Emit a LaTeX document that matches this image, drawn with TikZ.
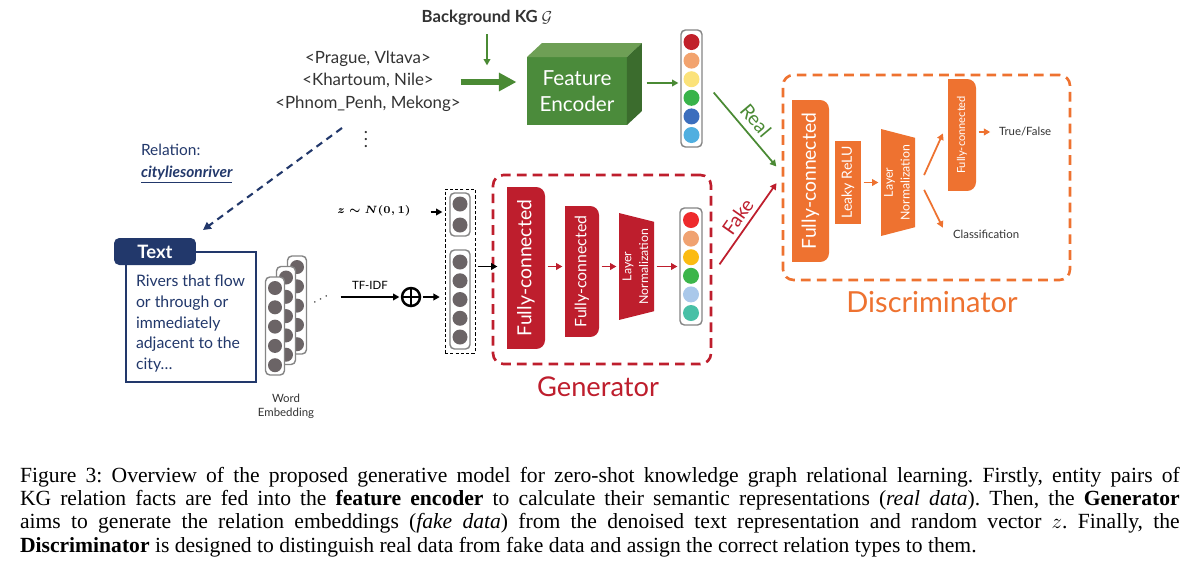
\documentclass[tikz,border=0pt]{standalone}
\usepackage{amsmath,amssymb}
\usepackage{fontspec}
\setmainfont{Lato}
\newfontfamily\capfont{Liberation Serif}
\usetikzlibrary{shapes,arrows.meta,positioning,fit,calc,backgrounds}

\definecolor{encgreen}{HTML}{4B8B3B}
\definecolor{encgreentop}{HTML}{6E9F55}
\definecolor{encgreenside}{HTML}{3B6C2D}
\definecolor{arrgreen}{HTML}{4A8A34}
\definecolor{genred}{HTML}{BE1E2D}
\definecolor{disorange}{HTML}{EE7230}
\definecolor{relnavy}{HTML}{22386B}
\definecolor{dotgray}{HTML}{6B6466}
\definecolor{vecgray}{HTML}{858585}
\definecolor{txtgray}{HTML}{333333}
% real / fake vector entries
\definecolor{realA}{HTML}{C1202A}
\definecolor{realB}{HTML}{F2A36E}
\definecolor{realC}{HTML}{FBE27A}
\definecolor{realD}{HTML}{38B34A}
\definecolor{realE}{HTML}{3B6EBD}
\definecolor{realF}{HTML}{50AFE0}
\definecolor{fakeA}{HTML}{EE2A2C}
\definecolor{fakeB}{HTML}{F0A271}
\definecolor{fakeC}{HTML}{FBBB12}
\definecolor{fakeD}{HTML}{3CB54A}
\definecolor{fakeE}{HTML}{A9C8EA}
\definecolor{fakeF}{HTML}{48C0A6}

\begin{document}
\begin{tikzpicture}[
    x=0.02cm, y=-0.02cm,
    every node/.style={inner sep=0pt, outer sep=0pt},
    arr/.style={-{Triangle[length=3.6pt,width=3.8pt]}, line width=1pt, shorten >=1.5pt, shorten <=1.5pt},
    vecbox/.style={draw=vecgray, fill=white, line width=0.8pt, rounded corners=2.5pt},
    fcbox/.style={fill=#1, text=white, rounded corners=5pt},
    dashbox/.style={draw=#1, line width=1.5pt, dash pattern=on 5.5pt off 3.5pt, rounded corners=6pt},
    smalltxt/.style={font=\fontsize{6.5}{8}\selectfont, text=txtgray},
  ]
  \useasboundingbox (0,0) rectangle (1191,575);

  % --- feature encoder branch
  \node[font=\bfseries\fontsize{9.5}{11}\selectfont, text=txtgray] (bgkg) at (487,18) {Background KG $\mathcal{G}$};
  \node[align=center, font=\fontsize{9.6}{12.8}\selectfont, text=txtgray] (pairs) at (368,81) {<Prague, Vltava>\\<Khartoum, Nile>\\<Phnom\_Penh, Mekong>};
  \node[text=txtgray] (pdots) at (366,134) {$\vdots$};
  \node[fill=encgreen, text=white, minimum width=2cm, minimum height=1.36cm, align=center, font=\fontsize{11.8}{15}\selectfont] (fenc) at (577,91) {Feature\\Encoder};
  \fill[encgreentop] (fenc.north west) -- ($(fenc.north west)+(15,-14)$) -- ($(fenc.north east)+(15,-14)$) -- (fenc.north east) -- cycle;
  \fill[encgreenside] (fenc.north east) -- ($(fenc.north east)+(15,-14)$) -- ($(fenc.south east)+(15,-14)$) -- (fenc.south east) -- cycle;
  \node[vecbox, minimum width=0.42cm, minimum height=2.34cm] (realvec) at (691.5,88.5) {};
  \foreach \c [count=\i from 0] in {realA,realB,realC,realD,realE,realF}
    \fill[\c] ($(realvec.north)+(0,12+18.6*\i)$) circle (8);

  % --- text branch
  \node[anchor=west, align=left, text=relnavy, font=\fontsize{8.8}{12.5}\selectfont] (relname) at (141,164) {Relation:\\\textbf{\textit{\underline{cityliesonriver}}}};
  \node[draw=relnavy, line width=1.2pt, minimum width=2.6cm, minimum height=2.6cm, anchor=north west] (textbox) at (126,252) {};
  \node[anchor=north west, align=left, text=relnavy, font=\fontsize{9}{11.8}\selectfont] (textbody) at (136,275) {Rivers that flow\\or through or\\immediately\\adjacent to the\\city\ldots};
  \node[fill=relnavy, text=white, rounded corners=3pt, minimum width=1.64cm, minimum height=0.54cm, font=\bfseries\fontsize{10.5}{12}\selectfont] (texttab) at (155,251.5) {Text};
  \foreach \k/\px/\py in {3/297/305, 2/286/315.5, 1/275/326} {
    \node[vecbox, minimum width=0.38cm, minimum height=1.96cm] (we\k) at (\px,\py) {};
    \foreach \j in {0,...,4}
      \fill[dotgray] ($(we\k.north)+(0,11+19.3*\j)$) circle (7);
  }
  \node[rotate=30, text=txtgray, font=\fontsize{8}{9}\selectfont] (wedots) at (322,299) {$\cdots$};
  \node[smalltxt, align=center] (welbl) at (286,406) {Word\\Embedding};
  \node[circle, draw, line width=1.4pt, minimum size=0.36cm,
        path picture={\draw[line width=1.4pt] (path picture bounding box.north) -- (path picture bounding box.south)
                      (path picture bounding box.west) -- (path picture bounding box.east);}] (plus) at (411,297) {};
  \node[font=\fontsize{6.2}{8}\selectfont] (zlbl) at (374,211) {$\boldsymbol{z\sim N(0,1)}$};

  % --- noise + text vector
  \node[draw, line width=0.5pt, dash pattern=on 1.8pt off 1.2pt, fit={(445,189) (475,353)}] (noisebox) {};
  \node[vecbox, minimum width=0.40cm, minimum height=0.86cm] (zvec) at (460,214.5) {};
  \foreach \j in {0,1}
    \fill[dotgray] ($(zvec.north)+(0,11+21*\j)$) circle (7.5);
  \node[vecbox, minimum width=0.40cm, minimum height=1.98cm] (tvec) at (460,299.5) {};
  \foreach \j in {0,...,4}
    \fill[dotgray] ($(tvec.north)+(0,12+18.75*\j)$) circle (7.5);

  % --- generator
  \node[dashbox=genred, fit={(493,175) (711,364)}] (genbox) {};
  \node[fcbox=genred, minimum width=0.76cm, minimum height=3.24cm, font=\fontsize{11}{13}\selectfont] (gfca) at (526,268) {\rotatebox{90}{Fully-connected}};
  \node[fcbox=genred, minimum width=0.68cm, minimum height=2.62cm, font=\fontsize{9}{11}\selectfont] (gfcb) at (582,271.5) {\rotatebox{90}{Fully-connected}};
  \node[text=white, minimum width=0.70cm, minimum height=2.14cm, font=\fontsize{7}{9.5}\selectfont] (glnorm) at (636.5,266.5) {\rotatebox{90}{\begin{tabular}{@{}c@{}}Layer\\Normalization\end{tabular}}};
  \node[vecbox, minimum width=0.44cm, minimum height=2.34cm] (fakevec) at (691,266.5) {};
  \foreach \c [count=\i from 0] in {fakeA,fakeB,fakeC,fakeD,fakeE,fakeF}
    \fill[\c] ($(fakevec.north)+(0,12+18.6*\i)$) circle (8);
  \node[text=genred, font=\fontsize{15.5}{18}\selectfont] (genlbl) at (598,387) {Generator};

  % --- discriminator
  \node[dashbox=disorange, fit={(783,75) (1070,280)}] (disbox) {};
  \node[fcbox=disorange, minimum width=0.74cm, minimum height=3.24cm, font=\fontsize{11}{13}\selectfont] (dfca) at (810.5,181) {\rotatebox{90}{Fully-connected}};
  \node[fill=disorange, text=white, minimum width=0.52cm, minimum height=1.66cm, font=\fontsize{8}{10}\selectfont] (drelu) at (848,182.5) {\rotatebox{90}{Leaky ReLU}};
  \node[text=white, minimum width=0.68cm, minimum height=2.14cm, font=\fontsize{7}{9.5}\selectfont] (dlnorm) at (898,182.5) {\rotatebox{90}{\begin{tabular}{@{}c@{}}Layer\\Normalization\end{tabular}}};
  \node[fcbox=disorange, minimum width=0.56cm, minimum height=2.24cm, font=\fontsize{6.3}{8}\selectfont] (dfcb) at (962,135) {\rotatebox{90}{Fully-connected}};
  \node[smalltxt, anchor=west] (dtrue) at (999,132) {True/False};
  \node[smalltxt, anchor=west] (dclass) at (953,234) {Classification};
  \node[text=disorange, font=\fontsize{16.5}{19}\selectfont] (dislbl) at (932,302) {Discriminator};

  % square left edges and trapezoids behind the blocks
  \begin{scope}[on background layer]
    \fill[white] (0,0) rectangle (1191,575);
    \foreach \nd/\c in {gfca/genred, gfcb/genred, dfca/disorange, dfcb/disorange}
      \fill[\c] (\nd.north west) rectangle (\nd.south);
    \foreach \nd/\c in {glnorm/genred, dlnorm/disorange}
      \fill[\c] (\nd.north west) -- ([yshift=-5pt]\nd.north east) -- ([yshift=5pt]\nd.south east) -- (\nd.south west) -- cycle;
  \end{scope}

  % --- connectors
  \coordinate (bgkgend) at (487,68);
  \draw[arr, arrgreen, shorten <=5pt] (bgkg) -- (bgkgend);
  \coordinate (thickstart) at ($(pairs.east)+(0,1)$);
  \draw[arrgreen, line width=3pt, -{Triangle[length=10pt,width=10pt]}, shorten >=6pt] (thickstart) -- (thickstart -| fenc.west);
  \coordinate (fencside) at ($(fenc.east)+(17,-8)$);
  \draw[arr, arrgreen] (fencside) -- (fencside -| realvec.west);
  \coordinate (realin) at ($(disbox.west)+(-5,-9)$);
  \draw[arr, arrgreen] ($(realvec.east)+(10,2)$) -- node[midway, sloped, above=4pt, text=arrgreen, font=\fontsize{11}{13}\selectfont] (reallbl) {Real} (realin);
  \coordinate (relstart) at (342,128);
  \coordinate (relend) at ($(texttab.north east)+(7,-8)$);
  \draw[relnavy, line width=1.2pt, dash pattern=on 4pt off 3pt, -{Triangle[length=4.5pt,width=4.5pt]}] (relstart) -- (relend);
  \coordinate (tfstart) at (338,297);
  \draw[arr] (tfstart) -- node[above=4pt, smalltxt, text=black] (tflbl) {TF-IDF} (plus);
  \draw[arr, shorten >=3pt] (plus) -- (noisebox.west |- plus);
  \coordinate (zstart) at (428,212);
  \draw[arr] (zstart) -- (zstart -| noisebox.west);
  \draw[arr, shorten >=-2.5pt] (noisebox.east |- glnorm) -- (genbox.west |- glnorm);
  \draw[arr, genred] (gfca.east |- glnorm) -- (gfcb.west |- glnorm);
  \draw[arr, genred] (gfcb.east |- glnorm) -- (glnorm.west);
  \draw[arr, genred] (glnorm.east) -- (fakevec.west);
  \coordinate (fakein) at ($(disbox.west)+(-5,3.5)$);
  \draw[arr, genred] ($(fakevec.east)+(16,0)$) -- node[midway, sloped, above=3pt, text=genred, font=\fontsize{11}{13}\selectfont] (fakelbl) {Fake} (fakein);
  \draw[arr, disorange] (drelu.east) -- (dlnorm.west);
  \draw[arr, disorange] ($(dlnorm.east)+(8,-5)$) -- ($(dfcb.west)+(-4,-4)$);
  \draw[arr, disorange] ($(dlnorm.east)+(8,5)$) -- ($(dclass.west)+(-9,-4)$);
  \draw[arr, disorange, shorten >=5pt] (dfcb.east |- dtrue) -- (dtrue.west);

  % --- caption
  \node[anchor=north west, text width=23.2cm, align=justify, font=\capfont\fontsize{12.3}{13.3}\selectfont, text=black] (caption) at (20,467) {\frenchspacing\hyphenpenalty=10000\exhyphenpenalty=10000
    Figure 3: Overview of the proposed generative model for zero-shot knowledge graph relational learning. Firstly, entity pairs of\linebreak
    KG relation facts are fed into the \textbf{feature encoder} to calculate their semantic representations (\textit{real data}). Then, the \textbf{Generator}\linebreak
    aims to generate the relation embeddings (\textit{fake data}) from the denoised text representation and random vector $z$. Finally, the\linebreak
    \textbf{Discriminator} is designed to distinguish real data from fake data and assign the correct relation types to them.};
\end{tikzpicture}
\end{document}
